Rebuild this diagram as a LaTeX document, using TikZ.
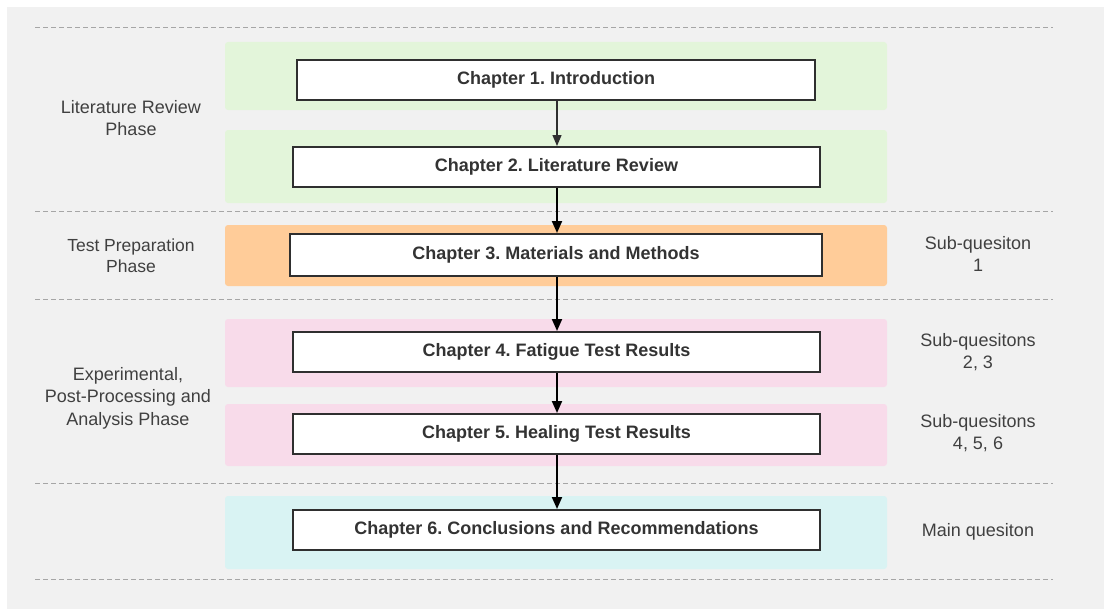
\documentclass[tikz,border=0pt]{standalone}
\usepackage{fontspec}
\setmainfont{Liberation Sans}
\usetikzlibrary{arrows.meta}
\frenchspacing
\definecolor{bgpanel}{HTML}{F1F1F1}
\definecolor{dashcol}{HTML}{A6A6A6}
\definecolor{lgreen}{HTML}{E3F5DA}
\definecolor{lorange}{HTML}{FFCC99}
\definecolor{lpink}{HTML}{F8DBEA}
\definecolor{lcyan}{HTML}{D9F3F3}
\definecolor{txtcol}{HTML}{404040}
\definecolor{boxline}{HTML}{2F2F2F}
\tikzset{
  band/.style={rounded corners=3pt, draw=none},
  chapbox/.style={draw=boxline, line width=2pt, fill=white, font=\bfseries\fontsize{18}{21}\selectfont, text=txtcol!80!black, inner sep=0pt},
  sidelabel/.style={align=center, font=\fontsize{18}{22}\selectfont, text=txtcol},
  sep/.style={draw=dashcol, dashed, dash pattern=on 5pt off 3pt, line width=0.8pt},
  flow/.style={-{Triangle[width=10pt,length=12pt]}, line width=2pt, black},
  flowthin/.style={-{Triangle[width=9pt,length=11pt]}, line width=1.3pt, boxline}
}
\begin{document}
\begin{tikzpicture}[x=1pt,y=-1pt]
\useasboundingbox (0,0) rectangle (1111,610);
\fill[white] (0,0) rectangle (1111,610);
\fill[bgpanel] (7,7) rectangle (1104,609);
% separators
\foreach \yy in {27,211,299,483,579} \draw[sep] (35,\yy) -- (1053,\yy);
% bands
\fill[band, lgreen] (225,42) rectangle (887,110);
\fill[band, lgreen] (225,130) rectangle (887,203);
\fill[band, lorange] (225,225) rectangle (887,286);
\fill[band, lpink] (225,319) rectangle (887,387);
\fill[band, lpink] (225,404) rectangle (887,466);
\fill[band, lcyan] (225,496) rectangle (887,569);
% chapter boxes
\node[chapbox, minimum width=518pt, minimum height=40pt] (c1) at (556,80) {Chapter 1. Introduction};
\node[chapbox, minimum width=527pt, minimum height=40pt] (c2) at (556.5,167) {Chapter 2. Literature Review};
\node[chapbox, minimum width=532pt, minimum height=42pt] (c3) at (556,255) {Chapter 3. Materials and Methods};
\node[chapbox, minimum width=527pt, minimum height=40pt] (c4) at (556.5,352) {Chapter 4. Fatigue Test Results};
\node[chapbox, minimum width=527pt, minimum height=40pt] (c5) at (556.5,434) {Chapter 5. Healing Test Results};
\node[chapbox, minimum width=527pt, minimum height=40pt] (c6) at (556.5,530) {Chapter 6. Conclusions and Recommendations};
% arrows
\draw[flowthin] (c1.south -| 557,0) -- (c2.north -| 557,0);
\draw[flow] (c2.south -| 557,0) -- (c3.north -| 557,0);
\draw[flow] (c3.south -| 557,0) -- (c4.north -| 557,0);
\draw[flow] (c4.south -| 557,0) -- (c5.north -| 557,0);
\draw[flow] (c5.south -| 557,0) -- (c6.north -| 557,0);
% left labels
\node[sidelabel] (p1) at (131,118) {Literature Review\\Phase};
\node[sidelabel, font=\fontsize{17.5}{21}\selectfont] (p2) at (131,256) {Test Preparation\\Phase};
\node[sidelabel, font=\fontsize{18}{22.5}\selectfont] (p3) at (128,398) {Experimental,\\Post-Processing and\\Analysis Phase};
% right labels
\node[sidelabel] (q1) at (978,254) {Sub-quesiton\\1};
\node[sidelabel] (q2) at (978,352) {Sub-quesitons\\2, 3};
\node[sidelabel] (q3) at (978,433) {Sub-quesitons\\4, 5, 6};
\node[sidelabel] (q4) at (978,532) {Main quesiton};
\end{tikzpicture}
\end{document}
